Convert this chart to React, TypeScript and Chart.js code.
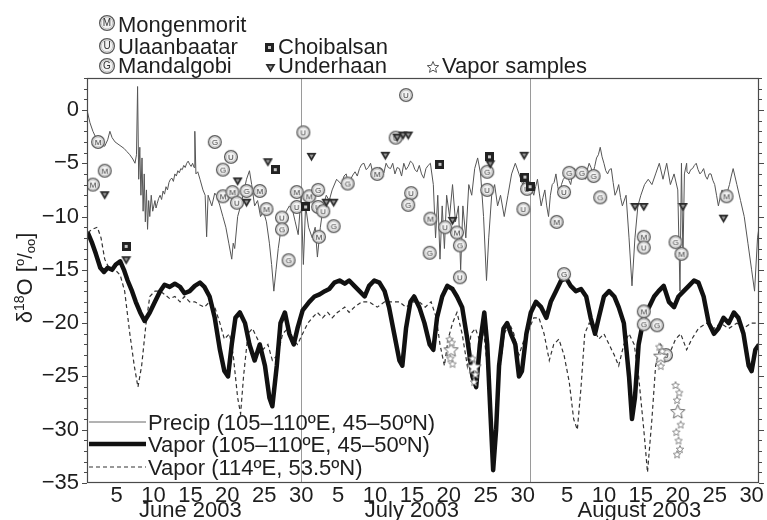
import { useEffect, useRef } from "react";
import { Chart, registerables } from "chart.js";

Chart.register(...registerables);

const FONT = "'Liberation Sans', Arial, Helvetica, sans-serif";
const INK = "#1e1e1e";

// Day numbers count from 1 June 2003 (31 = 1 July, 62 = 1 August).
const X_TICK_DAYS = [5, 10, 15, 20, 25, 30, 35, 40, 45, 50, 55, 60, 66, 71, 76, 81, 86, 91];
const MONTH_LABELS = ["June 2003", "July 2003", "August 2003"];
const MONTH_LABEL_DAYS = [15, 45, 75.8];
const MONTH_BOUNDARY_DAYS = [30, 61];
const Y_TICKS = [0, -5, -10, -15, -20, -25, -30, -35];

// Precipitation δ18O, 105–110°E, 45–50°N
const PRECIP_DAY = [
  1.0, 1.4, 1.8, 2.2, 2.6, 3.0, 3.4, 3.8, 4.1, 4.4, 4.8, 5.2, 5.6, 6.0, 6.4, 6.8, 7.2, 7.5, 7.7, 7.85,
  8.0, 8.15, 8.3, 8.45, 8.6, 8.75, 8.9, 9.05, 9.2, 9.35, 9.5, 9.7, 9.9, 10.2, 10.5, 10.9, 11.3, 11.7, 12.1, 12.5,
  12.9, 13.3, 13.7, 14.1, 14.5, 14.9, 15.3, 15.5, 15.6, 15.75, 16.0, 16.3, 16.7, 17.0, 17.2, 17.4, 17.9, 18.3, 18.6, 19.0,
  19.4, 19.8, 20.2, 20.6, 20.8, 21.0, 21.4, 21.8, 22.2, 22.6, 23.0, 23.3, 23.7, 24.1, 24.5, 24.9, 25.3, 25.7, 26.0, 26.3,
  26.6, 26.9, 27.2, 27.6, 28.0, 28.4, 28.8, 29.2, 29.6, 30.0, 30.3, 30.6, 31.0, 31.5, 31.9, 32.2, 32.6, 33.0, 33.4, 33.8,
  34.2, 34.8, 35.5, 36.1, 36.7, 37.3, 37.9, 38.5, 39.1, 39.7, 40.3, 40.9, 41.5, 42.1, 42.7, 43.3, 43.9, 44.5, 45.1, 45.7,
  46.3, 46.9, 47.5, 47.9, 48.2, 48.5, 48.8, 49.1, 49.4, 49.7, 50.1, 50.5, 50.9, 51.3, 51.6, 51.9, 52.3, 52.7, 53.1, 53.5,
  53.9, 54.3, 54.7, 55.1, 55.4, 55.8, 56.2, 56.6, 57.0, 57.5, 58.0, 58.5, 59.0, 59.5, 60.0, 60.5, 61.0, 61.5, 62.0, 62.5,
  63.0, 63.5, 64.0, 64.5, 65.0, 65.5, 66.0, 66.5, 67.0, 67.5, 68.0, 68.5, 69.0, 69.5, 70.0, 70.5, 71.0, 71.5, 72.0, 72.5,
  73.0, 73.5, 74.0, 74.4, 74.8, 75.2, 75.6, 76.0, 76.5, 77.0, 77.5, 78.0, 78.5, 79.0, 79.5, 80.0, 80.5, 81.0, 81.3, 81.5,
  81.7, 81.9, 82.2, 82.5, 83.0, 83.5, 84.0, 84.5, 85.0, 85.5, 86.0, 86.5, 87.0, 87.5, 88.0, 88.5, 89.0, 89.5, 90.0, 90.5,
  91.0, 91.4, 91.8, 92.0,
];
const PRECIP_D18O = [
  0.0, -1.2, -2.0, -2.6, -3.0, -3.3, -3.4, -2.8, -2.0, -2.6, -3.0, -3.2, -3.4, -3.6, -3.9, -4.2, -4.6, -5.0, -4.2, 2.2,
  -6.5, -3.5, -8.0, -4.5, -9.5, -6.0, -10.5, -7.5, -11.2, -8.5, -10.0, -8.0, -9.5, -8.5, -8.8, -8.0, -7.6, -7.2, -6.8, -6.4,
  -6.0, -5.7, -5.5, -5.2, -5.0, -5.1, -5.0, -5.4, -2.0, -6.0, -5.8, -6.5, -7.5, -8.0, -11.9, -8.0, -9.0, -7.8, -8.1, -9.0,
  -10.0, -11.0, -12.5, -14.0, -12.5, -13.0, -10.0, -9.0, -7.8, -6.5, -5.7, -7.0, -9.0, -8.5, -10.0, -9.5, -10.5, -12.5, -14.5, -17.0,
  -15.0, -13.0, -11.5, -10.0, -9.5, -9.0, -9.3, -10.5, -11.7, -8.0, -14.5, -9.0, -11.0, -12.0, -11.0, -13.8, -11.0, -9.0, -8.0, -8.5,
  -7.5, -6.5, -7.0, -6.0, -6.5, -5.8, -5.5, -5.0, -5.4, -5.9, -6.0, -5.5, -5.0, -5.5, -6.0, -5.5, -5.0, -5.3, -5.0, -5.8,
  -6.0, -5.5, -5.0, -7.0, -12.0, -8.0, -14.0, -9.0, -13.0, -8.0, -10.0, -7.0, -10.5, -9.0, -15.0, -9.0, -12.0, -7.0, -8.0, -5.5,
  -4.5, -6.0, -10.0, -16.0, -12.0, -8.0, -7.0, -9.0, -8.0, -10.0, -8.0, -6.0, -5.0, -6.0, -7.0, -6.0, -7.0, -8.0, -6.5, -9.0,
  -7.5, -10.0, -7.0, -6.0, -8.0, -6.5, -6.0, -7.0, -5.5, -6.0, -5.5, -6.5, -5.0, -6.0, -4.5, -3.5, -5.0, -6.0, -5.5, -8.0,
  -7.0, -9.0, -8.0, -12.0, -16.5, -12.0, -9.0, -8.0, -7.0, -6.5, -7.0, -6.0, -5.0, -6.5, -5.0, -7.0, -6.0, -7.5, -17.0, -5.0,
  -14.0, -6.0, -5.0, -6.0, -5.5, -5.0, -6.0, -5.5, -6.5, -6.0, -7.0, -9.0, -7.5, -8.5, -7.0, -5.5, -7.0, -8.5, -10.0, -12.5,
  -15.0, -17.0, -12.0, -11.0,
];
// Finer wiggles of the same precipitation curve during the quieter stretches
const PRECIP_DETAIL_DAY = [
  10.35, 10.7, 11.1, 11.5, 11.9, 12.3, 12.7, 13.1, 13.5, 13.9, 14.3, 14.7, 15.1,
  35.8, 36.4, 37.0, 37.6, 38.2, 38.8, 39.4, 40.0, 40.6, 41.2, 41.8, 42.4, 43.0, 43.6, 44.2, 44.8, 45.4, 46.0, 46.6, 47.2,
  61.75, 62.25, 62.75, 63.25, 63.75, 64.25, 64.75, 65.25, 65.75, 66.25, 66.75, 67.25, 67.75, 68.25, 68.75, 69.25, 69.75,
  70.25, 70.75, 71.25, 71.75, 72.25, 72.75, 73.25,
  82.25, 82.75, 83.25, 83.75, 84.25, 84.75, 85.25, 85.75, 86.25, 86.75, 87.25, 87.75, 88.25,
];
const PRECIP_DETAIL_D18O = [
  -9.2, -8.3, -8.4, -7.9, -7.5, -6.5, -6.7, -6.2, -5.9, -5.6, -5.4, -4.8, -5.3,
  -6.2, -6.9, -6.1, -6.2, -5.1, -5.6, -5.0, -6.4, -5.4, -5.9, -5.4, -5.0, -5.4, -6.2, -5.6, -4.8, -5.6, -5.2, -6.4, -5.2,
  -7.2, -7.8, -8.2, -9.0, -8.0, -6.8, -7.2, -7.0, -6.3, -6.6, -6.0, -5.8, -5.7, -6.1, -5.6, -5.4, -5.3,
  -4.2, -4.4, -5.7, -5.6, -6.8, -7.6, -8.2,
  -5.8, -5.6, -5.2, -5.6, -5.8, -6.2, -6.0, -6.6, -8.0, -8.2, -8.0, -7.6, -6.2,
];

// Vapour δ18O, 105–110°E, 45–50°N
const VAPOR_REGION_DAY = [
  1.1, 1.7, 2.2, 2.8, 3.3, 3.8, 4.4, 4.9, 5.5, 6.0, 6.5, 7.1, 7.6, 8.2, 8.8, 9.5, 10.2, 10.9, 11.5, 12.2,
  12.9, 13.6, 14.2, 14.9, 15.6, 16.3, 16.9, 17.6, 18.3, 19.0, 19.6, 20.1, 20.6, 21.1, 21.7, 22.4, 23.0, 23.7, 24.4, 25.1,
  25.7, 26.1, 26.7, 27.2, 27.8, 28.4, 29.0, 29.5, 30.2, 31.1, 31.8, 32.5, 33.2, 33.8, 34.5, 35.2, 35.9, 36.5, 37.2, 37.9,
  38.6, 39.2, 39.9, 40.6, 41.3, 41.9, 42.6, 43.3, 43.7, 44.2, 44.8, 45.3, 46.0, 46.7, 47.4, 47.9, 48.4, 49.1, 49.8, 50.5,
  51.1, 51.8, 52.5, 53.2, 53.7, 54.2, 54.8, 55.2, 55.6, 56.0, 56.4, 56.8, 57.4, 57.9, 58.4, 59.0, 59.5, 59.9, 60.5, 61.1,
  61.8, 62.5, 63.2, 63.8, 64.5, 65.2, 65.9, 66.5, 67.2, 67.9, 68.6, 69.2, 69.8, 70.3, 71.0, 71.7, 72.4, 73.0, 73.7, 74.4,
  74.8, 75.2, 75.7, 76.4, 77.1, 77.8, 78.4, 79.1, 79.8, 80.5, 81.1, 81.8, 82.5, 83.2, 83.8, 84.5, 85.2, 85.9, 86.5, 87.2,
  87.9, 88.6, 89.2, 89.9, 90.6, 91.0, 91.5, 92.0,
];
const VAPOR_REGION_D18O = [
  -11.5, -12.5, -13.5, -14.8, -15.2, -14.8, -15.0, -14.5, -14.2, -15.0, -16.0, -17.0, -18.0, -19.0, -19.8, -19.0, -18.0, -17.0, -16.4, -16.6,
  -16.3, -16.6, -17.2, -17.0, -16.5, -16.2, -16.6, -17.5, -19.5, -22.5, -24.5, -25.0, -22.0, -19.5, -19.0, -20.0, -22.0, -23.5, -22.0, -24.0,
  -27.0, -27.8, -24.0, -20.0, -19.0, -21.0, -22.0, -20.5, -18.8, -18.0, -17.5, -17.3, -17.0, -16.8, -16.2, -16.0, -16.3, -16.0, -16.5, -17.0,
  -17.5, -16.5, -16.0, -16.2, -17.0, -18.5, -21.0, -23.5, -24.0, -20.5, -18.0, -17.5, -18.5, -20.0, -22.0, -22.5, -19.5, -17.5, -16.5, -16.8,
  -17.5, -18.5, -21.5, -25.0, -26.0, -22.0, -19.0, -22.0, -28.0, -33.8, -30.0, -24.0, -20.5, -20.0, -21.0, -22.0, -25.0, -24.5, -21.0, -19.0,
  -18.0, -18.5, -19.5, -18.0, -17.0, -16.0, -15.8, -16.5, -17.0, -16.8, -17.5, -19.5, -21.0, -19.5, -17.5, -17.0, -17.5, -18.5, -20.0, -25.0,
  -29.0, -27.0, -22.0, -19.5, -18.5, -17.5, -17.0, -16.5, -18.0, -18.5, -17.5, -17.0, -16.5, -16.0, -16.2, -17.5, -20.0, -21.0, -20.5, -19.5,
  -20.0, -19.0, -19.5, -21.0, -24.0, -24.5, -22.5, -22.0,
];

// Vapour δ18O, 114°E, 53.5°N
const VAPOR_NORTH_DAY = [
  1.1, 1.7, 2.4, 2.9, 3.4, 4.1, 4.8, 5.5, 6.1, 6.8, 7.4, 7.9, 8.4, 9.0, 9.5, 10.2, 10.9, 11.5, 12.2, 12.9,
  13.6, 14.2, 14.9, 15.6, 16.3, 16.9, 17.6, 18.3, 19.0, 19.6, 20.3, 20.8, 21.4, 21.8, 22.2, 22.8, 23.4, 24.1, 24.8, 25.5,
  26.1, 26.8, 27.5, 28.2, 28.8, 29.5, 30.2, 30.9, 31.5, 32.2, 32.9, 33.6, 34.2, 34.9, 35.9, 36.5, 37.2, 38.2, 39.2, 40.3,
  41.3, 42.2, 43.3, 44.2, 45.2, 46.0, 46.8, 47.6, 48.3, 48.8, 49.4, 49.9, 50.5, 51.1, 51.8, 52.5, 53.0, 53.6, 54.1, 54.6,
  55.2, 55.7, 56.2, 56.8, 57.5, 58.2, 58.8, 59.5, 60.2, 60.9, 61.5, 62.2, 62.9, 63.6, 64.2, 64.9, 65.6, 66.3, 66.9, 67.4,
  67.9, 68.4, 69.0, 69.6, 70.3, 71.0, 71.7, 72.4, 73.0, 73.7, 74.4, 75.1, 75.7, 76.4, 76.9, 77.5, 78.0, 78.7, 79.4, 80.1,
  80.7, 81.4, 82.2, 82.9, 83.8, 84.9, 85.9, 86.8, 87.9, 89.0, 89.9, 90.9, 92.0,
];
const VAPOR_NORTH_D18O = [
  -11.5, -11.2, -11.0, -12.0, -14.0, -15.0, -15.0, -15.5, -17.0, -21.0, -24.0, -26.0, -24.0, -20.0, -17.5, -17.0, -17.0, -17.3, -17.7, -17.5,
  -18.0, -17.5, -18.0, -18.0, -18.3, -18.5, -18.0, -18.5, -20.0, -21.5, -21.0, -23.0, -27.0, -28.5, -25.0, -21.0, -20.5, -21.5, -22.5, -22.0,
  -23.5, -23.0, -21.0, -20.5, -21.5, -22.0, -21.0, -20.0, -19.5, -19.0, -19.5, -19.0, -19.5, -19.0, -18.5, -19.0, -18.5, -18.0, -18.0, -18.5,
  -18.0, -18.0, -18.0, -18.5, -18.0, -18.0, -18.5, -18.0, -19.5, -22.0, -24.0, -21.5, -20.0, -19.0, -21.0, -24.0, -21.0, -20.5, -21.5, -20.0,
  -24.0, -29.0, -31.0, -25.0, -21.0, -20.0, -21.0, -23.0, -21.5, -20.5, -19.5, -19.5, -21.0, -23.5, -22.0, -21.5, -23.0, -25.5, -29.0, -30.0,
  -26.0, -21.0, -20.0, -20.5, -21.5, -21.0, -22.0, -23.0, -24.0, -22.0, -21.0, -22.0, -25.0, -30.0, -34.0, -29.0, -24.0, -22.0, -23.0, -22.5,
  -21.5, -21.0, -22.5, -21.5, -20.5, -20.0, -20.5, -20.0, -20.5, -20.0, -20.5, -20.0, -20.0,
];

// Station precipitation samples
const MONGENMORIT_DAY = [1.8, 2.5, 3.4, 19.4, 20.7, 24.4, 25.3, 29.4, 31.1, 32.4, 40.3, 47.5, 51.1, 64.6, 76.4, 76.4, 81.5, 87.6];
const MONGENMORIT_D18O = [-7.0, -3.0, -5.7, -8.1, -7.7, -7.6, -9.3, -7.7, -8.1, -11.9, -6.0, -10.2, -11.5, -10.5, -18.9, -11.9, -13.5, -8.1];
const ULAANBAATAR_DAY = [20.5, 21.3, 27.4, 29.4, 30.3, 32.3, 33.0, 42.8, 44.2, 44.9, 49.5, 51.5, 55.2, 60.1, 60.6, 65.6, 76.4, 79.4];
const ULAANBAATAR_D18O = [-4.4, -8.7, -10.1, -9.1, -2.1, -9.1, -9.5, -2.6, 1.4, -7.8, -11.0, -15.7, -7.5, -9.3, -7.4, -7.7, -12.9, -23.0];
const MANDALGOBI_DAY = [18.3, 19.4, 22.6, 27.4, 28.3, 32.3, 34.4, 36.3, 44.5, 47.4, 51.5, 55.2, 65.6, 66.3, 68.0, 69.6, 70.5, 76.4, 78.2, 80.7];
const MANDALGOBI_D18O = [-3.0, -5.6, -7.6, -11.2, -14.1, -7.5, -10.9, -6.9, -8.9, -13.4, -12.7, -5.8, -15.4, -5.9, -5.9, -6.2, -8.2, -20.1, -20.2, -12.4];
const CHOIBALSAN_DAY = [6.3, 26.5, 30.6, 48.8, 55.5, 60.3, 61.0];
const CHOIBALSAN_D18O = [-12.8, -5.6, -9.1, -5.1, -4.4, -6.3, -7.2];
const UNDERHAAN_DAY = [3.4, 6.3, 21.4, 22.6, 25.5, 31.4, 33.4, 34.4, 41.4, 43.0, 43.8, 44.5, 50.5, 55.6, 60.2, 75.2, 76.4, 81.7, 87.2];
const UNDERHAAN_D18O = [-8.0, -14.1, -6.7, -8.7, -4.9, -4.4, -8.7, -8.7, -4.3, -2.6, -2.4, -2.4, -10.4, -5.1, -4.3, -9.1, -9.1, -9.1, -10.2];

// Vapour samples (main values and their spread)
const VAPOR_SAMPLE_DAY = [50.3, 53.4, 78.7, 81.0];
const VAPOR_SAMPLE_D18O = [-22.5, -24.1, -23.1, -28.3];
const VAPOR_SPREAD_DAY = [50.1, 50.4, 50.2, 50.5, 53.2, 53.6, 53.4, 78.5, 78.9, 78.7, 80.7, 81.2, 80.9, 81.4, 80.8, 81.1, 81.3, 80.9];
const VAPOR_SPREAD_D18O = [-21.5, -21.8, -23.3, -23.8, -23.3, -24.8, -25.5, -22.2, -22.6, -24.0, -25.8, -26.5, -27.2, -29.5, -30.2, -31.0, -31.8, -32.3];

const pts = (xs: number[], ys: number[]) => xs.map((x, i) => ({ x, y: ys[i] }));
const dayOfMonth = (d: number) => (d <= 30 ? d : d <= 61 ? d - 30 : d - 61);
const minus = (v: number) => (v < 0 ? "\u2212" + Math.abs(v) : String(v));

function makeCanvas(w: number, h: number) {
  const c = document.createElement("canvas");
  c.width = w;
  c.height = h;
  return c;
}

function circledLetter(letter: string, d: number) {
  const c = makeCanvas(d + 2, d + 2);
  const g = c.getContext("2d")!;
  const cx = c.width / 2;
  g.beginPath();
  g.arc(cx, cx, d / 2 - 0.6, 0, Math.PI * 2);
  g.fillStyle = "#f2f2f2";
  g.fill();
  g.lineWidth = 1.3;
  g.strokeStyle = "#5a5a5a";
  g.stroke();
  g.beginPath();
  g.arc(cx, cx, d / 2 - 2.2, 0, Math.PI * 2);
  g.lineWidth = 0.6;
  g.strokeStyle = "#aaa";
  g.stroke();
  g.fillStyle = "#333";
  g.font = `${Math.round(d * 0.6)}px ${FONT}`;
  g.textAlign = "center";
  g.textBaseline = "middle";
  g.fillText(letter, cx, cx + 0.6);
  return c;
}

function squareMark() {
  const c = makeCanvas(9, 9);
  const g = c.getContext("2d")!;
  g.fillStyle = "#222";
  g.fillRect(0, 0, 9, 9);
  g.fillStyle = "#c8c8c8";
  g.fillRect(3, 3, 3, 3);
  return c;
}

function triangleMark() {
  const c = makeCanvas(11, 10);
  const g = c.getContext("2d")!;
  g.beginPath();
  g.moveTo(0.5, 1);
  g.lineTo(10.5, 1);
  g.lineTo(5.5, 9.5);
  g.closePath();
  g.fillStyle = "#2a2a2a";
  g.fill();
  g.beginPath();
  g.moveTo(3.5, 2.8);
  g.lineTo(7.5, 2.8);
  g.lineTo(5.5, 6.2);
  g.closePath();
  g.fillStyle = "#9a9a9a";
  g.fill();
  return c;
}

function starMark(size: number, color: string) {
  const c = makeCanvas(size + 2, size + 2);
  const g = c.getContext("2d")!;
  const cx = c.width / 2;
  const R = size / 2;
  const r = R * 0.45;
  g.beginPath();
  for (let i = 0; i < 10; i++) {
    const a = -Math.PI / 2 + (i * Math.PI) / 5;
    const rad = i % 2 === 0 ? R : r;
    const x = cx + rad * Math.cos(a);
    const y = cx + 0.5 + rad * Math.sin(a);
    if (i === 0) g.moveTo(x, y);
    else g.lineTo(x, y);
  }
  g.closePath();
  g.fillStyle = "#ffffff";
  g.fill();
  g.lineWidth = 1;
  g.strokeStyle = color;
  g.stroke();
  return c;
}

export default function App() {
  const canvasRef = useRef<HTMLCanvasElement | null>(null);

  useEffect(() => {
    const canvas = canvasRef.current;
    if (!canvas) return;

    const markM = circledLetter("M", 14);
    const markU = circledLetter("U", 14);
    const markG = circledLetter("G", 14);
    const markSq = squareMark();
    const markTri = triangleMark();
    const markStar = starMark(15, "#666");
    const markStarSmall = starMark(8, "#888");
    const legendM = circledLetter("M", 16);
    const legendU = circledLetter("U", 16);
    const legendG = circledLetter("G", 16);
    const legendStar = starMark(12, "#555");

    const precipPoints = [...pts(PRECIP_DAY, PRECIP_D18O), ...pts(PRECIP_DETAIL_DAY, PRECIP_DETAIL_D18O)].sort(
      (p, q) => p.x - q.x
    );

    const decorations = {
      id: "decorations",
      beforeDatasetsDraw(chart: any) {
        const { ctx, chartArea: a, scales } = chart;
        ctx.save();
        ctx.strokeStyle = "#9a9a9a";
        ctx.lineWidth = 1;
        MONTH_BOUNDARY_DAYS.forEach((d) => {
          const x = Math.round(scales.x.getPixelForValue(d)) + 0.5;
          ctx.beginPath();
          ctx.moveTo(x, a.top);
          ctx.lineTo(x, a.bottom);
          ctx.stroke();
        });
        ctx.restore();
      },
      afterDraw(chart: any) {
        const { ctx, chartArea: a, scales } = chart;
        const y = scales.y;
        ctx.save();
        // frame and minor ticks
        ctx.strokeStyle = "#4a4a4a";
        ctx.lineWidth = 1.2;
        ctx.strokeRect(a.left + 0.5, a.top + 0.5, a.right - a.left - 1, a.bottom - a.top - 1);
        ctx.lineWidth = 1;
        for (let v = -35; v <= 3; v++) {
          const py = Math.round(y.getPixelForValue(v)) + 0.5;
          const len = v % 5 === 0 ? 5 : 3;
          ctx.beginPath();
          ctx.moveTo(a.left - len, py);
          ctx.lineTo(a.left, py);
          ctx.moveTo(a.right, py);
          ctx.lineTo(a.right + len, py);
          ctx.stroke();
        }

        // month names under the day ticks
        ctx.fillStyle = INK;
        ctx.font = `22px ${FONT}`;
        ctx.textAlign = "center";
        ctx.textBaseline = "alphabetic";
        MONTH_LABELS.forEach((t, i) => ctx.fillText(t, scales.x.getPixelForValue(MONTH_LABEL_DAYS[i]), 517));

        // y-axis title: δ18O [o/oo]
        ctx.save();
        ctx.translate(32, 278);
        ctx.rotate(-Math.PI / 2);
        const parts = [
          { t: "\u03b4", s: 22, dy: 0 },
          { t: "18", s: 14, dy: -8 },
          { t: "O [", s: 22, dy: 0 },
          { t: "o", s: 13, dy: -8 },
          { t: "/", s: 20, dy: 0 },
          { t: "oo", s: 13, dy: 3 },
          { t: "]", s: 22, dy: 0 },
        ];
        let total = 0;
        parts.forEach((p) => {
          ctx.font = `${p.s}px ${FONT}`;
          total += ctx.measureText(p.t).width;
        });
        let cx = -total / 2;
        ctx.textAlign = "left";
        parts.forEach((p) => {
          ctx.font = `${p.s}px ${FONT}`;
          ctx.fillText(p.t, cx, p.dy);
          cx += ctx.measureText(p.t).width;
        });
        ctx.restore();

        // station legend above the plot
        const put = (img: HTMLCanvasElement, x: number, yy: number) =>
          ctx.drawImage(img, Math.round(x - img.width / 2), Math.round(yy - img.height / 2));
        ctx.font = `22px ${FONT}`;
        ctx.textAlign = "left";
        put(legendM, 107, 23);
        ctx.fillText("Mongenmorit", 118, 32);
        put(legendU, 107, 46);
        ctx.fillText("Ulaanbaatar", 118, 54);
        put(legendG, 107, 66);
        ctx.fillText("Mandalgobi", 118, 73);
        put(markSq, 269, 47);
        ctx.fillText("Choibalsan", 278, 54);
        put(markTri, 270, 68);
        ctx.fillText("Underhaan", 278, 73);
        put(legendStar, 433, 67);
        ctx.fillText("Vapor samples", 442, 73);

        // series legend in the lower-left corner
        const rows = [
          { t: "Precip (105\u2013110\u00baE, 45\u201350\u00baN)", w: 1, c: "#666", dash: [] as number[], ly: 422, ty: 430 },
          { t: "Vapor (105\u2013110\u00baE, 45\u201350\u00baN)", w: 4.5, c: "#111", dash: [], ly: 444, ty: 452 },
          { t: "Vapor (114\u00baE, 53.5\u00baN)", w: 1.2, c: "#333", dash: [4, 3], ly: 467, ty: 475 },
        ];
        rows.forEach((r) => {
          ctx.beginPath();
          ctx.setLineDash(r.dash);
          ctx.lineWidth = r.w;
          ctx.strokeStyle = r.c;
          ctx.moveTo(89, r.ly);
          ctx.lineTo(146, r.ly);
          ctx.stroke();
          ctx.setLineDash([]);
          ctx.fillStyle = INK;
          ctx.fillText(r.t, 148, r.ty);
        });
        ctx.restore();
      },
    };

    const markerSet = (label: string, xs: number[], ys: number[], img: HTMLCanvasElement) => ({
      label,
      data: pts(xs, ys),
      showLine: false,
      pointStyle: img,
      pointRadius: 7,
      order: 1,
    });

    const chart = new Chart(canvas, {
      type: "scatter",
      data: {
        datasets: [
          {
            label: "Precip (105–110ºE, 45–50ºN)",
            data: precipPoints,
            showLine: true,
            borderColor: "#555",
            borderWidth: 1,
            pointRadius: 0,
            order: 5,
          },
          {
            label: "Vapor (105–110ºE, 45–50ºN)",
            data: pts(VAPOR_REGION_DAY, VAPOR_REGION_D18O),
            showLine: true,
            borderColor: "#111",
            borderWidth: 4.5,
            borderJoinStyle: "round",
            pointRadius: 0,
            order: 3,
          },
          {
            label: "Vapor (114ºE, 53.5ºN)",
            data: pts(VAPOR_NORTH_DAY, VAPOR_NORTH_D18O),
            showLine: true,
            borderColor: "#333",
            borderWidth: 1.2,
            borderDash: [4, 3],
            pointRadius: 0,
            order: 4,
          },
          markerSet("Vapor samples spread", VAPOR_SPREAD_DAY, VAPOR_SPREAD_D18O, markStarSmall),
          markerSet("Vapor samples", VAPOR_SAMPLE_DAY, VAPOR_SAMPLE_D18O, markStar),
          markerSet("Choibalsan", CHOIBALSAN_DAY, CHOIBALSAN_D18O, markSq),
          markerSet("Underhaan", UNDERHAAN_DAY, UNDERHAAN_D18O, markTri),
          markerSet("Mandalgobi", MANDALGOBI_DAY, MANDALGOBI_D18O, markG),
          markerSet("Ulaanbaatar", ULAANBAATAR_DAY, ULAANBAATAR_D18O, markU),
          markerSet("Mongenmorit", MONGENMORIT_DAY, MONGENMORIT_D18O, markM),
        ] as any,
      },
      options: {
        responsive: false,
        animation: false,
        events: [],
        layout: { padding: { top: 78, right: 6, left: 0, bottom: 0 } },
        plugins: { legend: { display: false }, tooltip: { enabled: false } },
        scales: {
          x: {
            type: "linear",
            min: 1,
            max: 92,
            grid: { display: false, drawTicks: false },
            border: { display: false },
            afterBuildTicks: (s: any) => {
              s.ticks = X_TICK_DAYS.map((value) => ({ value }));
            },
            afterFit: (s: any) => {
              s.height = 37;
            },
            ticks: {
              autoSkip: false,
              maxRotation: 0,
              padding: 0,
              color: INK,
              font: { family: FONT, size: 22 },
              callback: (v: any) => String(dayOfMonth(Number(v))),
            },
          },
          y: {
            type: "linear",
            min: -35,
            max: 3,
            grid: { display: false, drawTicks: false },
            border: { display: false },
            afterBuildTicks: (s: any) => {
              s.ticks = Y_TICKS.map((value) => ({ value }));
            },
            afterFit: (s: any) => {
              s.width = 87;
            },
            ticks: {
              padding: 8,
              color: INK,
              font: { family: FONT, size: 22 },
              callback: (v: any) => minus(Number(v)),
            },
          },
        },
      } as any,
      plugins: [decorations],
    });

    return () => chart.destroy();
  }, []);

  return (
    <div style={{ position: "fixed", left: 0, top: 0, width: 767, height: 520, background: "#fff" }}>
      <canvas ref={canvasRef} width={767} height={520} style={{ display: "block" }} />
    </div>
  );
}
